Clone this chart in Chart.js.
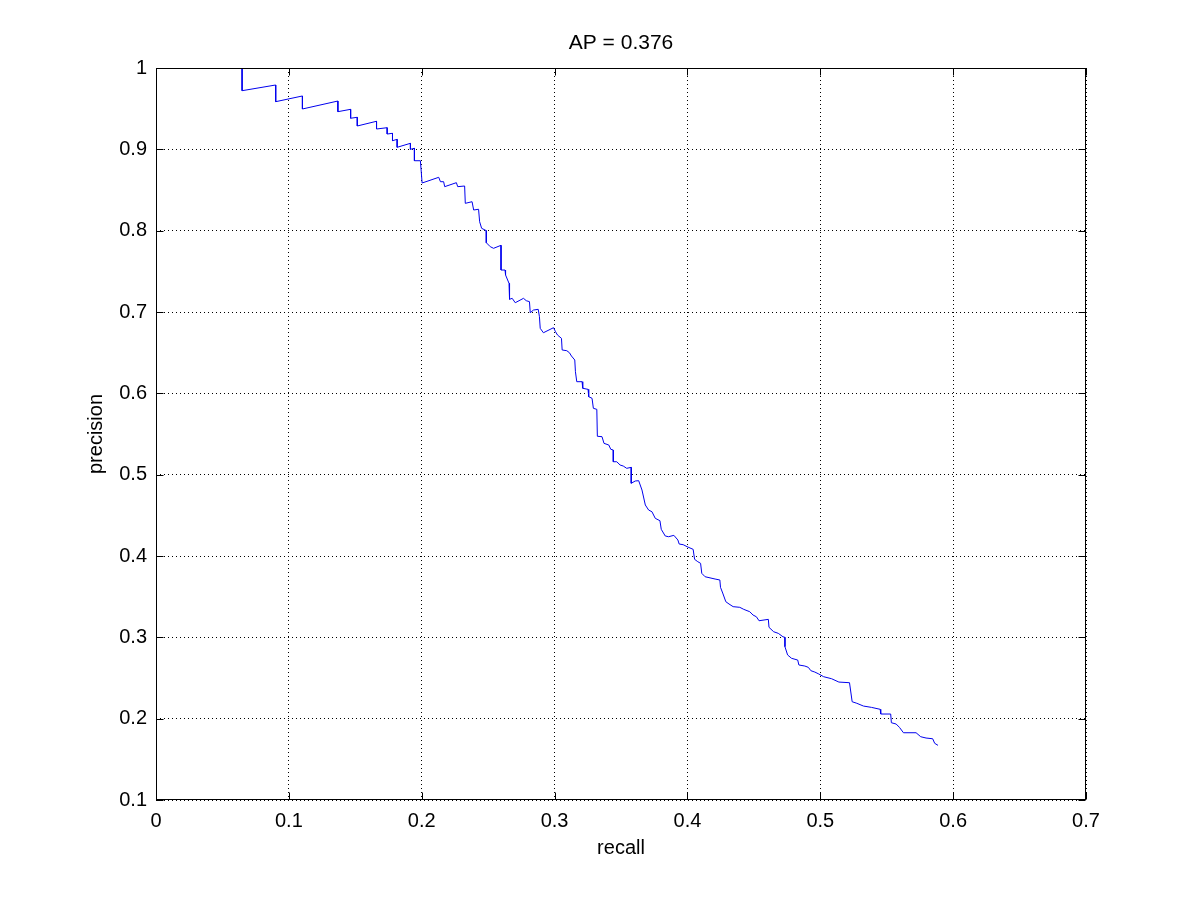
<!DOCTYPE html>
<html>
<head>
<meta charset="utf-8">
<title>AP = 0.376</title>
<script src="https://cdn.jsdelivr.net/npm/chart.js@4.4.1/dist/chart.umd.min.js"></script>
<style>
  html, body { margin: 0; padding: 0; background: #fff; }
  #wrap { width: 1200px; height: 900px; }
</style>
</head>
<body>
<div id="wrap"><canvas id="prChart" width="1200" height="900"></canvas></div>
<script>
// precision / recall curve, vertices
const recall = [
  0.0648, 0.0648, 0.0901, 0.0901, 0.1102, 0.1102, 0.1369, 0.1369, 0.1465, 0.1465,
  0.1515, 0.1515, 0.1660, 0.1660, 0.1740, 0.1740, 0.1780, 0.1780, 0.1815, 0.1815,
  0.1915, 0.1915, 0.1945, 0.1945, 0.1990, 0.2003, 0.2128, 0.2141, 0.2165, 0.2173,
  0.2261, 0.2271, 0.2323, 0.2328, 0.2379, 0.2391, 0.2428, 0.2436, 0.2451, 0.2486,
  0.2486, 0.2516, 0.2541, 0.2597, 0.2597, 0.2627, 0.2631, 0.2657, 0.2661, 0.2681,
  0.2704, 0.2766, 0.2787, 0.2811, 0.2817, 0.2841, 0.2877, 0.2886, 0.2892, 0.2916,
  0.2992, 0.3007, 0.3022, 0.3052, 0.3057, 0.3092, 0.3112, 0.3127, 0.3152, 0.3157,
  0.3167, 0.3207, 0.3212, 0.3252, 0.3257, 0.3282, 0.3292, 0.3318, 0.3322, 0.3357,
  0.3372, 0.3408, 0.3423, 0.3442, 0.3442, 0.3468, 0.3493, 0.3517, 0.3543, 0.3577,
  0.3577, 0.3607, 0.3633, 0.3658, 0.3683, 0.3708, 0.3733, 0.3758, 0.3793, 0.3803,
  0.3833, 0.3858, 0.3898, 0.3928, 0.3938, 0.3968, 0.3998, 0.4043, 0.4054, 0.4078,
  0.4099, 0.4108, 0.4133, 0.4208, 0.4244, 0.4249, 0.4268, 0.4289, 0.4313, 0.4344,
  0.4394, 0.4424, 0.4469, 0.4494, 0.4519, 0.4539, 0.4609, 0.4614, 0.4649, 0.4684,
  0.4719, 0.4734, 0.4734, 0.4754, 0.4784, 0.4830, 0.4839, 0.4884, 0.4910, 0.4929,
  0.4959, 0.4989, 0.5025, 0.5085, 0.5140, 0.5220, 0.5240, 0.5275, 0.5325, 0.5385,
  0.5451, 0.5455, 0.5530, 0.5535, 0.5571, 0.5596, 0.5626, 0.5721, 0.5756, 0.5796,
  0.5846, 0.5861, 0.5886
];
const precision = [
  1.0000, 0.9721, 0.9791, 0.9586, 0.9656, 0.9496, 0.9594, 0.9463, 0.9492, 0.9382,
  0.9394, 0.9287, 0.9345, 0.9250, 0.9266, 0.9188, 0.9197, 0.9106, 0.9123, 0.9025,
  0.9074, 0.9000, 0.9013, 0.8860, 0.8860, 0.8586, 0.8656, 0.8602, 0.8602, 0.8541,
  0.8590, 0.8541, 0.8549, 0.8336, 0.8356, 0.8254, 0.8263, 0.8110, 0.8029, 0.8000,
  0.7852, 0.7803, 0.7783, 0.7820, 0.7516, 0.7516, 0.7455, 0.7353, 0.7156, 0.7168,
  0.7114, 0.7168, 0.7139, 0.7127, 0.6991, 0.7024, 0.7033, 0.6942, 0.6799, 0.6745,
  0.6807, 0.6758, 0.6717, 0.6676, 0.6533, 0.6524, 0.6499, 0.6459, 0.6410, 0.6266,
  0.6143, 0.6143, 0.6062, 0.6049, 0.5958, 0.5939, 0.5816, 0.5803, 0.5472, 0.5467,
  0.5385, 0.5365, 0.5312, 0.5303, 0.5159, 0.5159, 0.5119, 0.5106, 0.5078, 0.5090,
  0.4894, 0.4922, 0.4926, 0.4811, 0.4627, 0.4565, 0.4544, 0.4463, 0.4434, 0.4328,
  0.4246, 0.4237, 0.4254, 0.4197, 0.4147, 0.4139, 0.4114, 0.4082, 0.3959, 0.3930,
  0.3910, 0.3787, 0.3745, 0.3717, 0.3705, 0.3615, 0.3533, 0.3438, 0.3410, 0.3377,
  0.3369, 0.3344, 0.3315, 0.3274, 0.3253, 0.3204, 0.3221, 0.3123, 0.3069, 0.3049,
  0.3007, 0.3000, 0.2885, 0.2783, 0.2742, 0.2721, 0.2660, 0.2647, 0.2631, 0.2590,
  0.2573, 0.2549, 0.2516, 0.2491, 0.2450, 0.2442, 0.2208, 0.2189, 0.2155, 0.2139,
  0.2115, 0.2057, 0.2057, 0.1950, 0.1934, 0.1893, 0.1827, 0.1827, 0.1778, 0.1762,
  0.1753, 0.1697, 0.1672
];

// axis ranges / labels
const xRange = [0, 0.7];
const yRange = [0.1, 1];
const tickStep = 0.1;
const chartTitle = 'AP = 0.376';
const xLabel = 'recall';
const yLabel = 'precision';

const FAMILY = "'Liberation Sans', Arial, Helvetica, sans-serif";
const FONT = { family: FAMILY, size: 20 };

// matlab-style box with inward ticks on all four sides
const boxTicks = {
  id: 'boxTicks',
  afterDraw(chart) {
    const { ctx, chartArea: a, scales: { x, y } } = chart;
    const L = Math.round(a.left) + 0.5, R = Math.round(a.right) - 0.5;
    const T = Math.round(a.top) + 0.5, B = Math.round(a.bottom) - 0.5;
    const len = 7;
    ctx.save();
    ctx.strokeStyle = '#000';
    ctx.lineWidth = 1;
    ctx.beginPath();
    x.ticks.forEach(t => {
      const px = Math.round(x.getPixelForValue(t.value)) + 0.5;
      ctx.moveTo(px, B); ctx.lineTo(px, B - len);
      ctx.moveTo(px, T); ctx.lineTo(px, T + len);
    });
    y.ticks.forEach(t => {
      const py = Math.round(y.getPixelForValue(t.value)) + 0.5;
      ctx.moveTo(L, py); ctx.lineTo(L + len, py);
      ctx.moveTo(R, py); ctx.lineTo(R - len, py);
    });
    ctx.stroke();
    ctx.strokeRect(L, T, R - L, B - T);
    ctx.restore();
  }
};

const points = recall.map((r, i) => ({ x: r, y: precision[i] }));

const ctx = document.getElementById('prChart').getContext('2d');
new Chart(ctx, {
  type: 'line',
  data: {
    datasets: [{
      label: yLabel,
      data: points,
      borderColor: '#0000ee',
      borderWidth: 1,
      pointRadius: 0,
      tension: 0,
      fill: false
    }]
  },
  options: {
    responsive: false,
    animation: false,
    layout: { padding: { left: 0, right: 114, top: 0, bottom: 0 } },
    plugins: {
      legend: { display: false },
      tooltip: { enabled: false },
      title: {
        display: true,
        text: chartTitle,
        fullSize: false,
        color: '#000',
        font: { family: FAMILY, size: 21, weight: 'normal' },
        padding: { top: 30.4, bottom: 12.4 }
      }
    },
    scales: {
      x: {
        type: 'linear',
        min: xRange[0], max: xRange[1],
        afterFit: s => { s.height = 100; },
        ticks: { stepSize: tickStep, padding: 9, color: '#000', font: FONT, maxRotation: 0,
                 callback: v => +v.toFixed(1) },
        grid: { color: '#000', lineWidth: 1, drawTicks: false },
        border: { display: false, dash: [1, 3] },
        title: { display: true, text: xLabel, color: '#000', font: FONT, padding: { top: 40, bottom: 40 } }
      },
      y: {
        type: 'linear',
        min: yRange[0], max: yRange[1],
        afterFit: s => { s.width = 156; },
        ticks: { stepSize: tickStep, padding: 9, color: '#000', font: FONT,
                 callback: v => +v.toFixed(1) },
        grid: { color: '#000', lineWidth: 1, drawTicks: false },
        border: { display: false, dash: [1, 3] },
        title: { display: true, text: yLabel, color: '#000', font: FONT, padding: { top: 84, bottom: 84 } }
      }
    }
  },
  plugins: [boxTicks]
});
</script>
</body>
</html>
